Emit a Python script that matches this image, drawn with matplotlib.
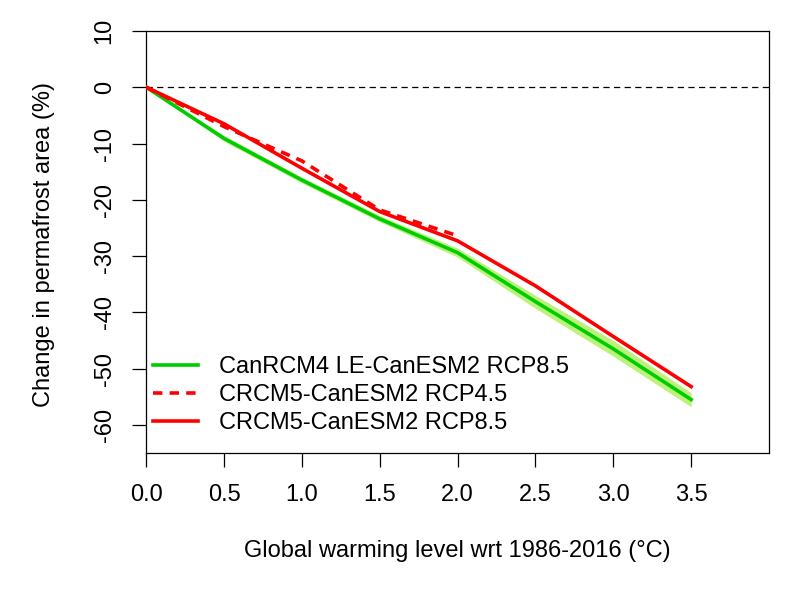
#!/usr/bin/env python3
import matplotlib
matplotlib.use("Agg")
import matplotlib.pyplot as plt
import numpy as np

plt.rcParams["font.family"] = ["Liberation Sans", "DejaVu Sans"]

# global warming levels (deg C)
gwl = [0.0, 0.5, 1.0, 1.5, 2.0, 2.5, 3.0, 3.5]
gwl_45 = [0.0, 0.5, 1.0, 1.5, 2.0]

# change in permafrost area (%)
canrcm4_85 = [0.0, -9.1, -16.5, -23.4, -29.4, -38.1, -46.5, -55.5]
canrcm4_85_lo = [0.0, -9.6, -17.0, -23.9, -30.2, -39.3, -47.8, -56.8]
canrcm4_85_hi = [0.0, -8.6, -16.0, -22.8, -28.6, -37.0, -45.0, -54.3]
crcm5_45 = [0.0, -7.0, -13.1, -21.8, -26.4]
crcm5_85 = [0.0, -6.5, -14.4, -22.1, -27.3, -35.3, -44.3, -53.2]

labels = ["CanRCM4 LE-CanESM2 RCP8.5", "CRCM5-CanESM2 RCP4.5", "CRCM5-CanESM2 RCP8.5"]
xticks = [0.0, 0.5, 1.0, 1.5, 2.0, 2.5, 3.0, 3.5]
yticks = [10, 0, -10, -20, -30, -40, -50, -60]

FS = 17


def main():
    fig = plt.figure(figsize=(8, 6), dpi=100)
    ax = fig.add_axes([146.3 / 800, 1 - 453 / 600, (769 - 146.3) / 800, (453 - 31) / 600])

    ax.axhline(0, color="black", lw=0.9, ls=(0, (5, 3.5)), zorder=1)

    ax.fill_between(gwl, canrcm4_85_lo, canrcm4_85_hi, color="#bcf27c", lw=0, zorder=2)
    l1, = ax.plot(gwl, canrcm4_85, color="#00cd00", lw=2.6, zorder=3)
    l2, = ax.plot(gwl_45, crcm5_45, color="red", lw=2.6, ls=(0, (2.6, 2.0)), zorder=4)
    l3, = ax.plot(gwl, crcm5_85, color="red", lw=2.6, zorder=4)

    ax.set_xlim(0, 4)
    ax.set_ylim(-65, 10)
    ax.set_xticks(xticks)
    ax.set_xticklabels(["%.1f" % x for x in xticks])
    ax.set_yticks(yticks)
    ax.set_yticklabels([str(y) for y in yticks])

    for s in ax.spines.values():
        s.set_linewidth(0.9)
    ax.tick_params(axis="both", length=10, width=0.9, labelsize=FS)
    ax.tick_params(axis="x", pad=12)
    ax.tick_params(axis="y", pad=12)
    for lab in ax.get_yticklabels():
        lab.set_rotation(90)
        lab.set_va("center")

    fig.text(457 / 800, 1 - 551 / 600, "Global warming level wrt 1986-2016 (\u00b0C)",
             ha="center", va="center", fontsize=FS)
    fig.text(44 / 800, 1 - 244 / 600, "Change in permafrost area (%)",
             ha="center", va="center", rotation=90, fontsize=FS)

    fig.legend([l1, l2, l3], labels, loc="upper left",
               bbox_to_anchor=(153 / 800, 1 - 356 / 600), frameon=False,
               fontsize=FS, handlelength=1.9, handletextpad=0.9,
               labelspacing=0.25, borderpad=0, borderaxespad=0)

    plt.savefig("out.png", dpi=100)


if __name__ == "__main__":
    main()
